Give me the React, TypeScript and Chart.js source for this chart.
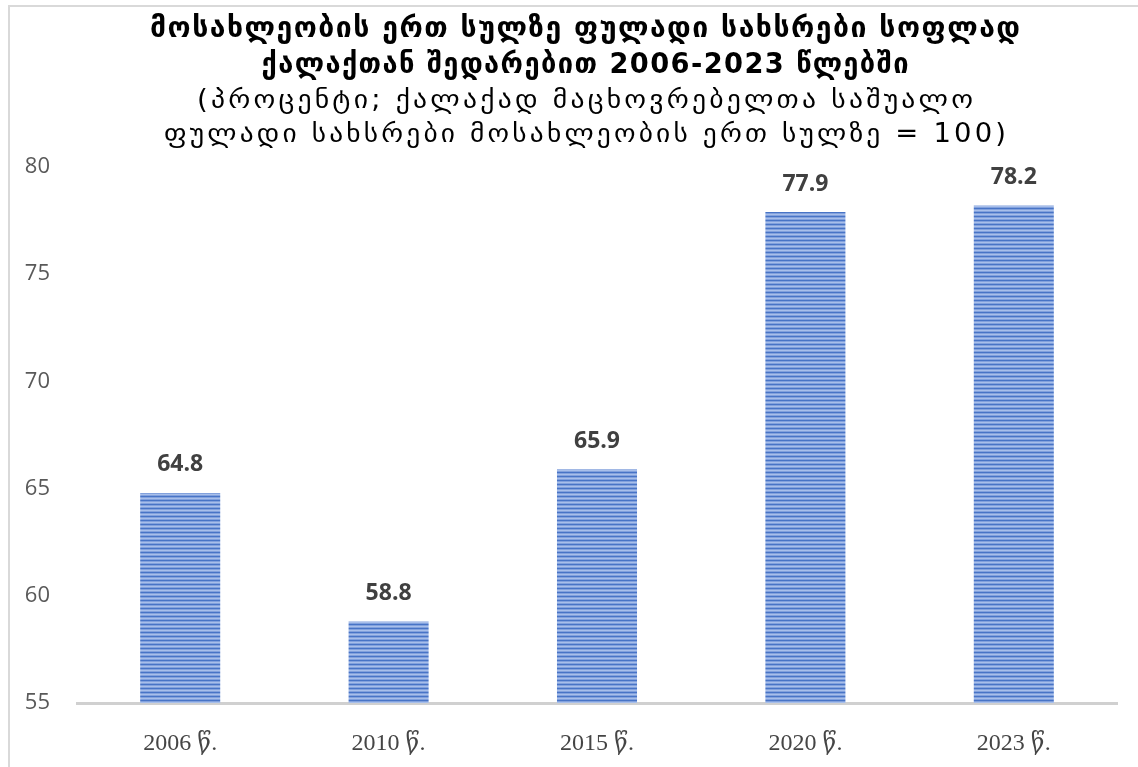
import React, { useEffect, useRef } from "react";
import { Chart, registerables } from "chart.js";

Chart.register(...registerables);

const categories = ["2006 წ.", "2010 წ.", "2015 წ.", "2020 წ.", "2023 წ."];
const values = [64.8, 58.8, 65.9, 77.9, 78.2];
const yMin = 55;
const yMax = 80;
const yStep = 5;
const titleLines = [
  "მოსახლეობის ერთ სულზე ფულადი სახსრები სოფლად",
  "ქალაქთან შედარებით 2006-2023 წლებში",
];
const subtitleLines = [
  "(პროცენტი; ქალაქად მაცხოვრებელთა საშუალო",
  "ფულადი სახსრები მოსახლეობის ერთ სულზე = 100)",
];
const titleWidths = [870, 647];
const subtitleWidths = [776, 842];

function makePattern(): CanvasPattern | string {
  const c = document.createElement("canvas");
  c.width = 4;
  c.height = 4;
  const g = c.getContext("2d");
  if (!g) return "#7f9fdc";
  const rows = ["#4874c6", "#82a1dd", "#a8bfea", "#82a1dd"];
  rows.forEach((col, i) => {
    g.fillStyle = col;
    g.fillRect(0, i, 4, 1);
  });
  const ctx = document.createElement("canvas").getContext("2d");
  return ctx ? (ctx.createPattern(c, "repeat") as CanvasPattern) : "#7f9fdc";
}

function fittedText(ctx: any, text: string, cx: number, y: number, spacing: number, target: number) {
  ctx.save();
  ctx.letterSpacing = spacing + "px";
  const w = ctx.measureText(text).width - spacing;
  const s = target / w;
  ctx.translate(cx - target / 2, y);
  ctx.scale(s, 1);
  ctx.textAlign = "left";
  ctx.fillText(text, 0, 0);
  ctx.restore();
}

const decorPlugin = {
  id: "decor",
  beforeDraw(chart: any) {
    const { ctx, width, height } = chart;
    ctx.save();
    ctx.fillStyle = "#ffffff";
    ctx.fillRect(0, 0, width, height);
    ctx.strokeStyle = "#d9d9d9";
    ctx.lineWidth = 2;
    ctx.beginPath();
    ctx.moveTo(9, height);
    ctx.lineTo(9, 6);
    ctx.lineTo(width, 6);
    ctx.stroke();
    const a = chart.chartArea;
    ctx.lineWidth = 3;
    ctx.strokeStyle = "#d0d0d0";
    ctx.beginPath();
    ctx.moveTo(a.left, a.bottom + 0.5);
    ctx.lineTo(a.right, a.bottom + 0.5);
    ctx.stroke();
    ctx.restore();
  },
  afterDraw(chart: any) {
    const { ctx } = chart;
    const cx = 585;
    ctx.save();
    ctx.textBaseline = "middle";
    ctx.fillStyle = "#000000";
    ctx.font = "bold 29px 'DejaVu Sans'";
    fittedText(ctx, titleLines[0], cx, 29, 1.5, titleWidths[0]);
    fittedText(ctx, titleLines[1], cx, 65, 1.5, titleWidths[1]);
    ctx.font = "26px 'DejaVu Sans'";
    fittedText(ctx, subtitleLines[0], cx, 101, 3, subtitleWidths[0]);
    fittedText(ctx, subtitleLines[1], cx, 135, 3, subtitleWidths[1]);

    const meta = chart.getDatasetMeta(0);
    ctx.textAlign = "center";
    ctx.font = "bold 23px 'Open Sans'";
    ctx.fillStyle = "#404040";
    meta.data.forEach((bar: any, i: number) => {
      ctx.fillText(values[i].toFixed(1), bar.x, bar.y - 28);
    });
    ctx.restore();
  },
};

export default function App() {
  const ref = useRef<HTMLCanvasElement | null>(null);
  useEffect(() => {
    if (!ref.current) return;
    const chart = new Chart(ref.current, {
      type: "bar",
      data: {
        labels: categories,
        datasets: [
          {
            data: values,
            backgroundColor: makePattern() as any,
            borderWidth: 0,
            categoryPercentage: 1,
            barPercentage: 0.384,
          },
        ],
      },
      options: {
        animation: false,
        responsive: false,
        devicePixelRatio: 1,
        layout: { padding: { top: 167, right: 20, bottom: 0, left: 0 } },
        plugins: {
          legend: { display: false },
          tooltip: { enabled: false },
          title: { display: false },
        },
        scales: {
          x: {
            grid: { display: false, drawTicks: false },
            border: { display: false },
            ticks: {
              color: "#454545",
              font: { family: "'Liberation Serif', 'DejaVu Serif', serif", size: 24 },
              padding: 26,
            },
            afterFit(scale: any) {
              scale.height = 64;
            },
          },
          y: {
            min: yMin,
            max: yMax,
            grid: { display: false, drawTicks: false },
            border: { display: false },
            ticks: {
              stepSize: yStep,
              color: "#595959",
              font: { family: "'Open Sans'", size: 22 },
              padding: 26,
            },
            afterFit(scale: any) {
              scale.width = 76;
            },
          },
        },
      },
      plugins: [decorPlugin],
    });
    return () => chart.destroy();
  }, []);
  return (
    <div style={{ position: "fixed", left: 0, top: 0, width: 1138, height: 767, background: "#fff" }}>
      <canvas ref={ref} width={1138} height={767} style={{ width: 1138, height: 767 }} />
    </div>
  );
}
